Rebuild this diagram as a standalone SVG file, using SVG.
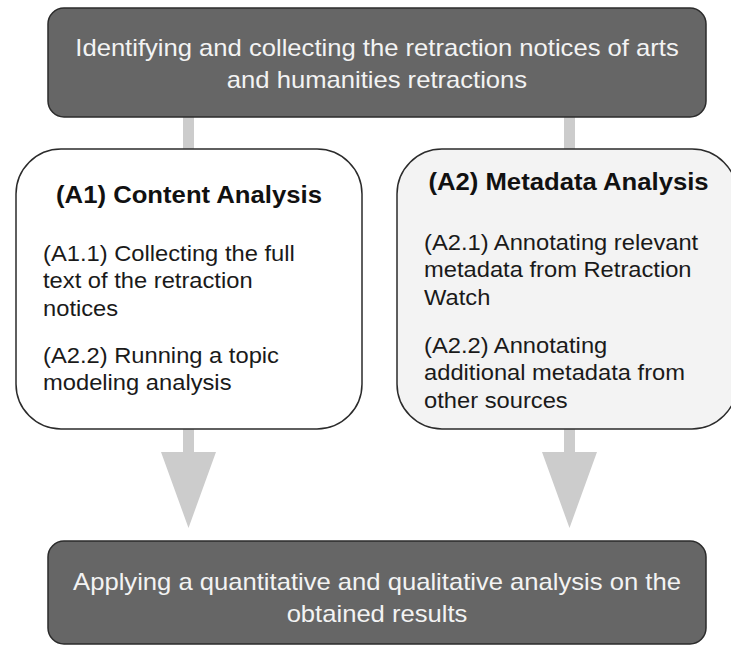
<svg xmlns="http://www.w3.org/2000/svg" width="731" height="645" viewBox="0 0 731 645">
<style>
.dark{fill:#666666;stroke:#2b2b2b;stroke-width:1.5}
.light{stroke:#2b2b2b;stroke-width:1.5}
.wt{font-family:"Liberation Sans",Arial,sans-serif;font-size:23px;fill:#f3f3f3;text-anchor:middle}
.tt{font-family:"Liberation Sans",Arial,sans-serif;font-size:23px;font-weight:bold;fill:#111;text-anchor:middle}
.bt{font-family:"Liberation Sans",Arial,sans-serif;font-size:21.5px;fill:#1a1a1a}
.arr{fill:#cccccc}
</style>
<rect width="731" height="645" fill="#ffffff"/>
<g id="connectors">
  <rect class="arr" x="183" y="117" width="11" height="32"/>
  <rect class="arr" x="564" y="117" width="11" height="32"/>
  <polygon class="arr" points="183,429 194,429 194,452 216,452 188.5,528 161,452 183,452"/>
  <polygon class="arr" points="564,429 575,429 575,452 597,452 569.5,528 542,452 564,452"/>
</g>
<g id="top">
  <rect class="dark" x="48" y="8" width="658" height="109" rx="16"/>
  <g transform="translate(377,0) scale(1.114,1)">
    <text class="wt" x="0" y="56">Identifying and collecting the retraction notices of arts</text>
    <text class="wt" x="0" y="88">and humanities retractions</text>
  </g>
</g>
<g id="a1">
  <rect class="light" x="16" y="149" width="346" height="280" rx="45" fill="#ffffff"/>
  <g transform="translate(189,0) scale(1.117,1)">
    <text class="tt" x="0" y="203">(A1) Content Analysis</text>
  </g>
  <g transform="translate(43,0) scale(1.104,1)">
    <text class="bt" x="0" y="261">(A1.1) Collecting the full</text>
    <text class="bt" x="0" y="288.5">text of the retraction</text>
    <text class="bt" x="0" y="316">notices</text>
    <text class="bt" x="0" y="363">(A2.2) Running a topic</text>
    <text class="bt" x="0" y="390.5">modeling analysis</text>
  </g>
</g>
<g id="a2">
  <rect class="light" x="397" y="149" width="340" height="280" rx="45" fill="#f3f3f3"/>
  <g transform="translate(568.5,0) scale(1.117,1)">
    <text class="tt" x="0" y="190">(A2) Metadata Analysis</text>
  </g>
  <g transform="translate(424,0) scale(1.104,1)">
    <text class="bt" x="0" y="250">(A2.1) Annotating relevant</text>
    <text class="bt" x="0" y="277.5">metadata from Retraction</text>
    <text class="bt" x="0" y="305">Watch</text>
    <text class="bt" x="0" y="353">(A2.2) Annotating</text>
    <text class="bt" x="0" y="380.5">additional metadata from</text>
    <text class="bt" x="0" y="408">other sources</text>
  </g>
</g>
<g id="bottom">
  <rect class="dark" x="48" y="541" width="658" height="103" rx="16"/>
  <g transform="translate(377,0) scale(1.114,1)">
    <text class="wt" x="0" y="590">Applying a quantitative and qualitative analysis on the</text>
    <text class="wt" x="0" y="622">obtained results</text>
  </g>
</g>
</svg>
